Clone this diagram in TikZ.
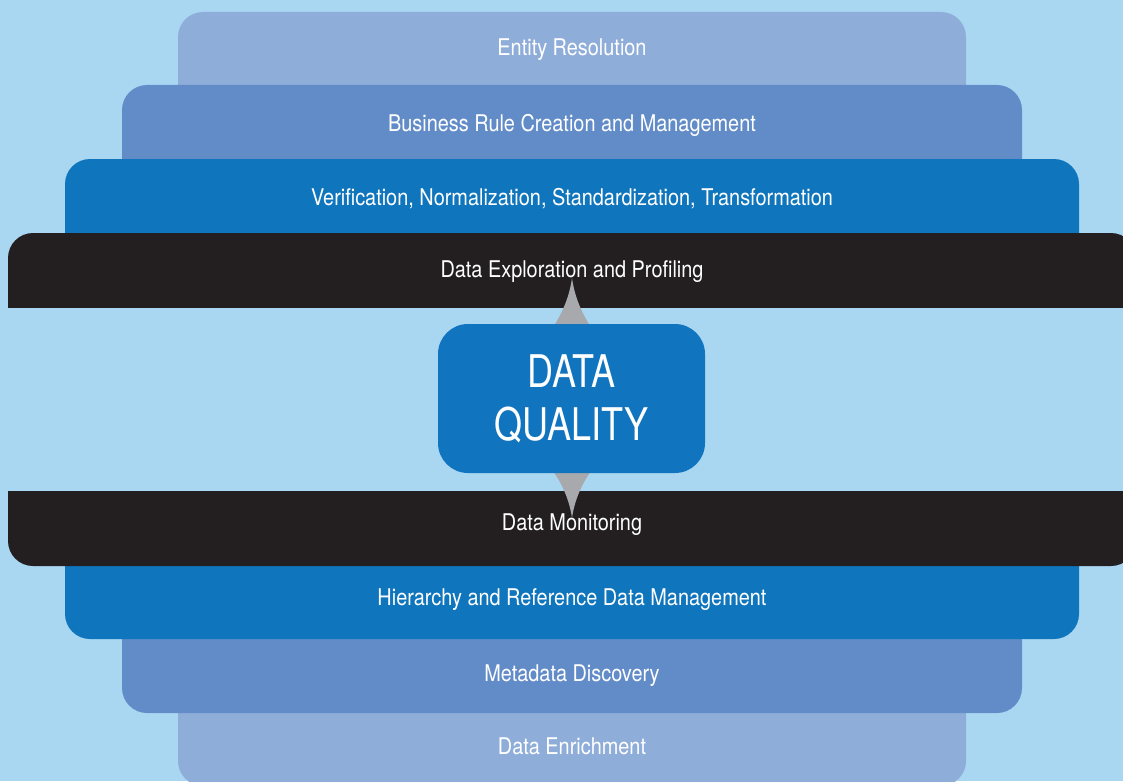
\documentclass[tikz,border=0pt]{standalone}
\usepackage{fontspec}
\setmainfont{TeX Gyre Heros}[FakeStretch=0.865]
\newfontfamily\dqfont{TeX Gyre Heros}[FakeStretch=0.8]
\definecolor{sky}{HTML}{A9D7F2}
\definecolor{tierpale}{HTML}{8FADD9}
\definecolor{tiermid}{HTML}{628CC8}
\definecolor{tierdeep}{HTML}{0F75BD}
\definecolor{ink}{HTML}{231F20}
\definecolor{boxblue}{HTML}{1174BF}
\definecolor{spikegray}{HTML}{A7A9AC}
\begin{document}
\begin{tikzpicture}[x=1pt,y=-1pt,
  bartext/.style={text=white, font=\fontsize{23}{27}\selectfont, anchor=base, inner sep=0pt},
  dqbox/.style={fill=boxblue, text=white, rounded corners=30pt, minimum width=267pt,
    minimum height=149pt, inner sep=0pt, align=center, font=\dqfont\fontsize{45}{53}\selectfont},
  barcorner/.style={rounded corners=25pt}]
\fill[sky] (0,0) rectangle (1123,781);
\useasboundingbox (0,0) rectangle (1123,781);

% upper stack, outermost tier first so each lower tier hides the one above
\fill[tierpale, barcorner] (178,12) rectangle (966,110);
\fill[tiermid, barcorner] (122,85) rectangle (1022,185);
\fill[tierdeep, barcorner] (65,159) rectangle (1079,260);
\begin{scope}
  \clip (0,233) rectangle (1123,307);
  \fill[ink, barcorner] (8,233) rectangle (1136,340);
\end{scope}

% lower stack
\fill[tierpale, barcorner] (178,690) rectangle (966,786);
\fill[tiermid, barcorner] (122,615) rectangle (1022,713);
\fill[tierdeep, barcorner] (65,540) rectangle (1079,639);
\begin{scope}
  \clip (0,491) rectangle (1123,566);
  \fill[ink, barcorner] (8,460) rectangle (1136,566);
\end{scope}

% grey spikes joining the centre box to the black tiers
\fill[spikegray] (554,326) .. controls (560,316) and (569,300) .. (572,278)
  .. controls (575,300) and (584,316) .. (590,326) -- cycle;
\fill[spikegray] (553,471) .. controls (560,481) and (569,497) .. (572,518)
  .. controls (575,497) and (584,481) .. (591,471) -- cycle;

\node[dqbox] (dq) at (571.5,398.5) {DATA\\QUALITY};

\node[bartext] (entity) at (572,56) {Entity Resolution};
\node[bartext] (rules) at (572,131.5) {Business Rule Creation and Management};
\node[bartext] (verify) at (572,205) {Verification, Normalization, Standardization, Transformation};
\node[bartext] (explore) at (572,277) {Data Exploration and Profiling};
\node[bartext] (monitor) at (572,530) {Data Monitoring};
\node[bartext] (hierarchy) at (572,605) {Hierarchy and Reference Data Management};
\node[bartext] (metadata) at (572,681.5) {Metadata Discovery};
\node[bartext] (enrich) at (572,754.5) {Data Enrichment};
\end{tikzpicture}
\end{document}
